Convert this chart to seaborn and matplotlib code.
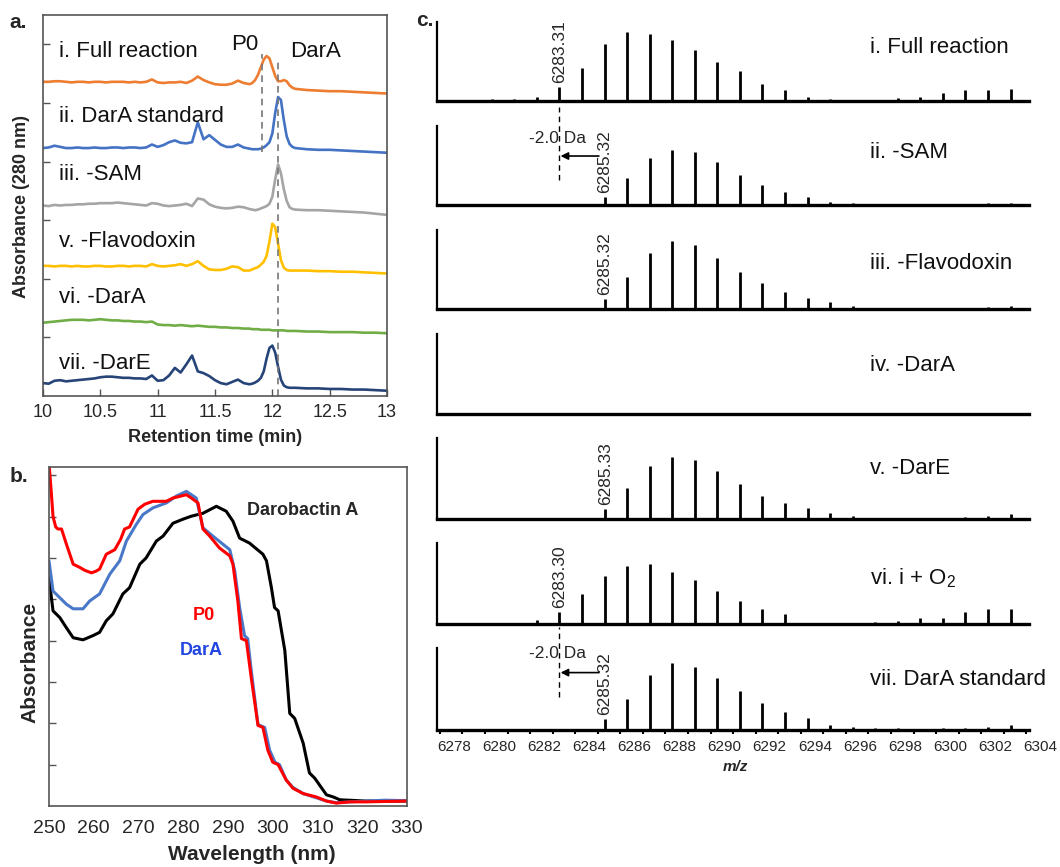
import numpy as np
import matplotlib
matplotlib.use("Agg")
import matplotlib.pyplot as plt
import seaborn as sns
from matplotlib import transforms

# ---------------- data: panel a (HPLC traces, 280 nm) ----------------
# sampling grid of retention time (min)
time_min = np.concatenate([np.arange(10.0, 11.76, 0.05),
                           np.arange(11.8, 12.201, 0.025),
                           np.arange(12.3, 13.01, 0.1)]).round(3)

full_reaction = [
    0.00, 0.00, 0.01, 0.01, 0.00, -0.01, 0.00, 0.00, -0.01, 0.00,
    0.00, -0.01, 0.00, 0.00, 0.00, -0.01, 0.00, -0.01, 0.00, 0.04,
    -0.01, -0.02, -0.01, -0.01, 0.00, -0.02, 0.02, 0.09, 0.03, -0.01,
    -0.04, -0.05, -0.05, -0.03, 0.02, -0.02,
    -0.04, -0.02, 0.03, 0.12, 0.25, 0.38, 0.44, 0.40, 0.25, 0.10, 0.01, 0.01, 0.03, 0.01, -0.06, -0.10, -0.12,
    -0.14, -0.15, -0.16, -0.16, -0.17, -0.18, -0.19, -0.20]
dara_standard = [
    0.00, 0.01, 0.04, 0.02, 0.00, 0.00, 0.01, 0.00, 0.00, 0.01,
    0.00, 0.00, 0.01, 0.01, 0.00, 0.01, 0.01, 0.00, 0.01, 0.06,
    0.02, 0.05, 0.10, 0.13, 0.09, 0.08, 0.10, 0.44, 0.15, 0.22,
    0.14, 0.06, 0.02, 0.02, 0.06, 0.01,
    -0.01, -0.02, -0.02, -0.02, -0.01, 0.01, 0.05, 0.10, 0.25, 0.60, 0.87, 0.82, 0.48, 0.20, 0.07, 0.02, 0.00,
    -0.02, -0.03, -0.03, -0.04, -0.05, -0.06, -0.07, -0.08]
minus_sam = [
    0.00, -0.01, 0.01, 0.00, 0.01, 0.01, 0.02, 0.02, 0.03, 0.03,
    0.04, 0.04, 0.04, 0.05, 0.04, 0.03, 0.02, 0.01, 0.00, 0.04,
    0.03, 0.00, -0.01, 0.00, 0.01, 0.03, -0.01, 0.12, 0.10, 0.02,
    -0.02, -0.04, -0.05, -0.04, -0.02, -0.03,
    -0.06, -0.07, -0.08, -0.07, -0.05, -0.03, -0.01, 0.03, 0.15, 0.45, 0.70, 0.55, 0.28, 0.08, -0.03, -0.06, -0.07,
    -0.08, -0.08, -0.09, -0.10, -0.11, -0.12, -0.14, -0.16]
minus_flavodoxin = [
    0.00, 0.00, -0.01, 0.00, 0.00, -0.01, 0.00, -0.01, -0.01, 0.00,
    0.00, -0.01, -0.01, 0.00, 0.00, -0.01, 0.00, 0.00, -0.01, 0.03,
    0.00, -0.01, 0.00, 0.01, 0.03, 0.00, 0.03, 0.08, 0.00, -0.06,
    -0.07, -0.07, -0.05, -0.01, -0.02, -0.08,
    -0.08, -0.06, -0.04, -0.02, 0.02, 0.07, 0.17, 0.42, 0.72, 0.66, 0.38, 0.10, -0.03, -0.07, -0.08, -0.08, -0.08,
    -0.08, -0.09, -0.09, -0.10, -0.10, -0.11, -0.12, -0.13]
minus_dara = [
    0.00, 0.01, 0.02, 0.03, 0.04, 0.05, 0.05, 0.05, 0.04, 0.05,
    0.06, 0.05, 0.04, 0.04, 0.03, 0.03, 0.02, 0.02, 0.01, 0.02,
    -0.03, -0.04, -0.04, -0.05, -0.04, -0.05, -0.06, -0.05, -0.06, -0.07,
    -0.07, -0.08, -0.08, -0.09, -0.09, -0.10,
    -0.10, -0.11, -0.11, -0.11, -0.12, -0.12, -0.12, -0.12, -0.13, -0.13, -0.13, -0.13, -0.13, -0.14, -0.14, -0.14, -0.14,
    -0.15, -0.15, -0.16, -0.16, -0.16, -0.17, -0.17, -0.18]
minus_dare = [
    0.00, -0.01, 0.04, 0.05, 0.03, 0.04, 0.05, 0.06, 0.07, 0.08,
    0.10, 0.11, 0.11, 0.10, 0.09, 0.09, 0.08, 0.08, 0.07, 0.13,
    0.04, 0.05, 0.13, 0.26, 0.18, 0.32, 0.47, 0.20, 0.17, 0.12,
    0.05, 0.00, -0.02, 0.02, 0.06, 0.00,
    -0.02, -0.01, 0.01, 0.04, 0.09, 0.20, 0.42, 0.60, 0.64, 0.52, 0.28, 0.06, -0.04, -0.07, -0.08, -0.08, -0.08,
    -0.09, -0.09, -0.10, -0.10, -0.11, -0.11, -0.12, -0.13]

hplc_traces = [full_reaction, dara_standard, minus_sam, minus_flavodoxin, minus_dara, minus_dare]
hplc_labels = ["i. Full reaction", "ii. DarA standard", "iii. -SAM",
               "v. -Flavodoxin", "vi. -DarA", "vii. -DarE"]
hplc_colors = ["#ED7D31", "#4472C4", "#A5A5A5", "#FFC000", "#70AD47", "#264478"]
hplc_offsets = [5.36, 4.23, 3.25, 2.22, 1.25, 0.22]
hplc_label_y = [5.88, 4.77, 3.78, 2.63, 1.68, 0.56]

# ---------------- data: panel b (UV-vis spectra) ----------------
wl_p0 = [250.0, 250.5, 250.9, 251.5, 252.0, 252.8, 253.9, 255.4, 256.9, 258.0, 259.5, 260.5,
         261.3, 262.8, 264.7, 266.0, 266.9, 268.0, 269.9, 271.4, 273.2, 276.2, 277.7, 280.7,
         281.8, 283.3, 284.4, 285.9, 288.1, 290.4, 291.1, 292.2, 293.0, 294.1, 295.2, 296.7,
         297.8, 298.9, 300.0, 301.2, 303.0, 304.5, 306.8, 309.7, 312.0, 314.2, 317.2, 320.9,
         325.0, 330.0]
abs_p0 = [8.3, 7.6, 7.0, 6.75, 6.7, 6.7, 6.33, 5.85, 5.77, 5.7, 5.64, 5.68,
          5.73, 6.09, 6.2, 6.45, 6.7, 6.75, 7.18, 7.3, 7.37, 7.37, 7.45, 7.53,
          7.45, 7.33, 6.7, 6.53, 6.24, 6.05, 5.85, 4.96, 4.05, 4.0, 3.1, 1.95,
          1.9, 1.35, 1.06, 1.0, 0.63, 0.43, 0.3, 0.22, 0.12, 0.07, 0.1, 0.1,
          0.11, 0.12]
wl_dara = [250.0, 250.9, 252.4, 253.9, 255.4, 257.6, 259.1, 261.3, 263.6, 265.8, 267.3, 269.5,
           271.0, 273.2, 276.2, 278.5, 280.7, 282.9, 284.4, 286.6, 288.9, 290.4, 291.5, 292.6,
           293.7, 294.4, 295.2, 296.7, 298.2, 299.3, 300.5, 301.5, 303.0, 304.5, 306.8, 309.7,
           312.0, 314.2, 317.2, 320.9, 325.0, 330.0]
abs_dara = [5.93, 5.2, 5.04, 4.88, 4.77, 4.77, 4.96, 5.13, 5.61, 5.93, 6.41, 6.81,
            7.05, 7.21, 7.33, 7.5, 7.61, 7.45, 6.73, 6.53, 6.33, 6.2, 5.69, 4.8,
            4.12, 4.05, 3.27, 1.97, 1.9, 1.35, 1.06, 1.0, 0.63, 0.45, 0.3, 0.2,
            0.12, 0.08, 0.1, 0.12, 0.14, 0.13]
wl_darobactin = [250.0, 250.9, 252.4, 253.9, 255.4, 257.6, 259.8, 261.3, 262.8, 264.3, 266.5, 268.0,
                 270.3, 271.7, 274.0, 275.5, 277.7, 280.0, 281.8, 284.4, 287.4, 289.6, 291.1, 292.6,
                 294.8, 297.8, 298.6, 299.7, 300.4, 301.2, 302.7, 303.8, 304.9, 306.8, 308.2, 309.4,
                 312.0, 313.5, 315.0, 320.9, 330.0]
abs_darobactin = [5.52, 4.72, 4.56, 4.31, 4.07, 4.02, 4.12, 4.2, 4.48, 4.65, 5.13, 5.28,
                  5.85, 6.0, 6.41, 6.53, 6.84, 6.94, 7.01, 7.08, 7.25, 7.13, 6.89, 6.48,
                  6.36, 6.09, 5.93, 5.28, 4.8, 4.72, 3.76, 2.24, 2.12, 1.52, 0.8, 0.67,
                  0.27, 0.22, 0.15, 0.12, 0.12]

# ---------------- data: panel c (deconvoluted MS, relative intensity %) ----------------
mz = [6279.3, 6280.3, 6281.3, 6282.3, 6283.3, 6284.3, 6285.3, 6286.3, 6287.3, 6288.3,
      6289.3, 6290.3, 6291.3, 6292.3, 6293.3, 6294.3, 6295.3, 6296.3, 6297.3, 6298.3,
      6299.3, 6300.3, 6301.3, 6302.3, 6303.3]
ms_full = [0, 2, 2, 5, 18, 42, 72, 87, 85, 77, 64, 50, 38, 22, 14, 5, 3, 1, 0, 4, 5, 10, 14, 14, 15]
ms_sam = [0, 0, 0, 0, 0, 0, 10, 34, 59, 70, 67, 54, 38, 25, 16, 10, 4, 2, 0, 0, 0, 0, 0, 2, 3]
ms_flav = [0, 0, 0, 0, 0, 0, 13, 40, 71, 86, 81, 65, 47, 33, 21, 14, 9, 4, 1, 1, 0, 1, 1, 3, 4]
ms_dara = [0, 0, 0, 0, 0, 0, 1.5, 1.5, 1.5, 1.5, 1.5, 1.5, 1.5, 1.5, 0, 0, 0, 0, 0, 0, 0, 0, 0, 0, 0]
ms_dare = [0, 0, 0, 0, 0, 1, 12, 38, 65, 76, 73, 59, 43, 29, 20, 14, 8, 4, 1, 0, 0, 0, 3, 4, 6]
ms_o2 = [0, 0, 0, 5, 15, 37, 59, 71, 74, 64, 54, 41, 28, 19, 12, 0, 0, 0, 3, 4, 7, 8, 15, 19, 19]
ms_std = [0, 1, 1, 1, 1, 1, 13, 38, 67, 82, 77, 63, 47, 33, 22, 15, 6, 4, 3, 2, 0, 2, 2, 4, 6]

ms_spectra = [ms_full, ms_sam, ms_flav, ms_dara, ms_dare, ms_o2, ms_std]
ms_labels = ["i. Full reaction", "ii. -SAM", "iii. -Flavodoxin", "iv. -DarA", "v. -DarE",
             r"vi. i + O$_\mathrm{2}$", "vii. DarA standard"]
# mono-isotopic peak annotations: (panel index, m/z, text)
ms_marks = [(0, 6283.31, "6283.31"), (1, 6285.32, "6285.32"), (2, 6285.32, "6285.32"),
            (4, 6285.33, "6285.33"), (5, 6283.30, "6283.30"), (6, 6285.32, "6285.32")]
mz_ticks = list(range(6278, 6305))

# ---------------- style ----------------
sns.set_theme(style="white")
plt.rcParams['font.family'] = ['Liberation Sans', 'DejaVu Sans']
plt.rcParams['mathtext.fontset'] = 'custom'
plt.rcParams['mathtext.rm'] = 'Liberation Sans'
plt.rcParams['mathtext.it'] = 'Liberation Sans:italic'
plt.rcParams['mathtext.bf'] = 'Liberation Sans:bold'

W, H = 1060, 867
fig = plt.figure(figsize=(W / 100, H / 100), dpi=100)


def box(l, t, r, b):
    # pixel box -> figure fraction rect
    return [l / W, 1 - b / H, (r - l) / W, (b - t) / H]


spine_col = "#555555"

# ---------------- panel a ----------------
ax_a = fig.add_axes(box(43, 15, 387, 396))
for sig, col, off in zip(hplc_traces, hplc_colors, hplc_offsets):
    sns.lineplot(x=time_min, y=np.array(sig) + off, ax=ax_a, color=col, lw=1.9, estimator=None)
for lab, ly in zip(hplc_labels, hplc_label_y):
    ax_a.text(10.14, ly, lab, fontsize=16, ha="left", va="center", color="#111111")
ax_a.plot([11.91, 11.91], [4.17, 5.83], color="#777777", lw=1.2, ls=(0, (4, 3)))
ax_a.plot([12.05, 12.05], [0.0, 5.71], color="#777777", lw=1.2, ls=(0, (4, 3)))
ax_a.text(11.76, 6.0, "P0", fontsize=16, ha="center", va="center", color="#111111")
ax_a.text(12.38, 5.88, "DarA", fontsize=16, ha="center", va="center", color="#111111")
ax_a.set_xlim(10, 13)
ax_a.set_ylim(0, 6.5)
ax_a.set_xticks([10, 10.5, 11, 11.5, 12, 12.5, 13])
ax_a.set_xticklabels(["10", "10.5", "11", "11.5", "12", "12.5", "13"])
ax_a.set_yticks([1, 2, 3, 4, 5, 6])
ax_a.set_yticklabels([])
ax_a.tick_params(axis="both", direction="in", length=5, width=1, color=spine_col,
                 labelsize=13, pad=6, bottom=True, left=True)
for sp in ax_a.spines.values():
    sp.set_color(spine_col)
    sp.set_linewidth(1.2)
ax_a.set_xlabel("")
ax_a.set_ylabel("")
fig.text(215 / W, 1 - 437 / H, "Retention time (min)", fontsize=13, weight="bold",
         ha="center", va="center")
fig.text(22 / W, 1 - 206 / H, "Absorbance (280 nm)", fontsize=13, weight="bold",
         ha="center", va="center", rotation=90)

# ---------------- panel b ----------------
ax_b = fig.add_axes(box(49, 467, 407, 806))
sns.lineplot(x=wl_darobactin, y=abs_darobactin, ax=ax_b, color="black", lw=2.2, estimator=None)
sns.lineplot(x=wl_dara, y=abs_dara, ax=ax_b, color="#4A78C8", lw=2.2, estimator=None)
sns.lineplot(x=wl_p0, y=abs_p0, ax=ax_b, color="#FF0000", lw=2.2, estimator=None)
ax_b.text(294.2, 7.14, "Darobactin A", fontsize=13, weight="bold", ha="left", va="center")
ax_b.text(284.6, 4.62, "P0", fontsize=13, weight="bold", ha="center", va="center", color="#FF0000")
ax_b.text(284.1, 3.75, "DarA", fontsize=13, weight="bold", ha="center", va="center", color="#2145E0")
ax_b.set_xlim(250, 330)
ax_b.set_ylim(0, 8.2)
ax_b.set_xticks(range(250, 331, 10))
ax_b.set_yticks(range(1, 9))
ax_b.set_yticklabels([])
ax_b.tick_params(axis="y", direction="in", length=5, width=1, color=spine_col, left=True)
ax_b.tick_params(axis="x", direction="in", length=0, labelsize=14, pad=10, bottom=True)
for sp in ax_b.spines.values():
    sp.set_color(spine_col)
    sp.set_linewidth(1.2)
ax_b.set_xlabel("")
ax_b.set_ylabel("")
fig.text(252 / W, 1 - 855 / H, "Wavelength (nm)", fontsize=15, weight="bold",
         ha="center", va="center")
fig.text(30 / W, 1 - 662 / H, "Absorbance", fontsize=15, weight="bold",
         ha="center", va="center", rotation=90)

# ---------------- panel c ----------------
c_rows = [(22, 101), (126, 205), (230, 309), (334, 414), (438, 519), (543, 624), (648, 730)]
c_label_y = [68, 67, 58, 61, 62, 57, 61]
c_axes = []
for k, (top, bot) in enumerate(c_rows):
    ax = fig.add_axes(box(437, top, 1029, bot))
    inten = ms_spectra[k]
    ax.vlines(mz, 0, inten, color="black", lw=2.0)
    ax.set_xlim(6277.87, 6304.12)
    ax.set_ylim(0, 100)
    for side in ["top", "right"]:
        ax.spines[side].set_visible(False)
    ax.spines["left"].set_color("black")
    ax.spines["left"].set_linewidth(1.6)
    ax.spines["bottom"].set_color("black")
    ax.spines["bottom"].set_linewidth(2.4)
    ax.set_yticks([])
    ax.set_xticks([])
    ax.patch.set_alpha(0)
    ax.text(6297.08, c_label_y[k], ms_labels[k], fontsize=16, ha="left", va="center", color="#111111")
    c_axes.append(ax)

for k, x, s in ms_marks:
    peak = ms_spectra[k][mz.index(round(x, 1))] if round(x, 1) in mz else 0
    c_axes[k].text(x, peak + 5, s, rotation=90, fontsize=12.5, ha="center", va="bottom",
                   clip_on=False)

# -2.0 Da shift markers (panels ii and vii)
for k, (y_hi, y_lo, y_arrow, y_txt) in [(1, (124, 32, 62, 84)), (6, (126, 40, 70, 93))]:
    ax = c_axes[k]
    ax.plot([6283.3, 6283.3], [y_lo, y_hi], color="black", lw=1.0, ls=(0, (4, 3)), clip_on=False)
    ax.annotate("", xy=(6283.35, y_arrow), xytext=(6285.05, y_arrow),
                arrowprops=dict(arrowstyle="-|>", color="black", lw=1.2, mutation_scale=11,
                                shrinkA=0, shrinkB=0))
    ax.text(6283.2, y_txt, "-2.0 Da", fontsize=12.5, ha="center", va="center")

ax_last = c_axes[-1]
ax_last.set_xticks(mz_ticks)
ax_last.set_xticklabels([str(t) if t % 2 == 0 else "" for t in mz_ticks])
ax_last.tick_params(axis="x", direction="out", length=3, width=1.5, color="black",
                    labelsize=11, pad=4, bottom=True)
shift = transforms.ScaledTranslation(-0.03, 0, fig.dpi_scale_trans)
for lab in ax_last.get_xticklabels():
    lab.set_horizontalalignment("left")
    lab.set_transform(lab.get_transform() + shift)
fig.text(735 / W, 1 - 767 / H, "m/z", fontsize=11, weight="bold", style="italic",
         ha="center", va="center")

# panel letters
fig.text(18 / W, 1 - 22 / H, "a.", fontsize=15, weight="bold", ha="center", va="center")
fig.text(19 / W, 1 - 476 / H, "b.", fontsize=15, weight="bold", ha="center", va="center")
fig.text(425 / W, 1 - 20 / H, "c.", fontsize=15, weight="bold", ha="center", va="center")

fig.savefig("out.png", dpi=100, facecolor="white")
